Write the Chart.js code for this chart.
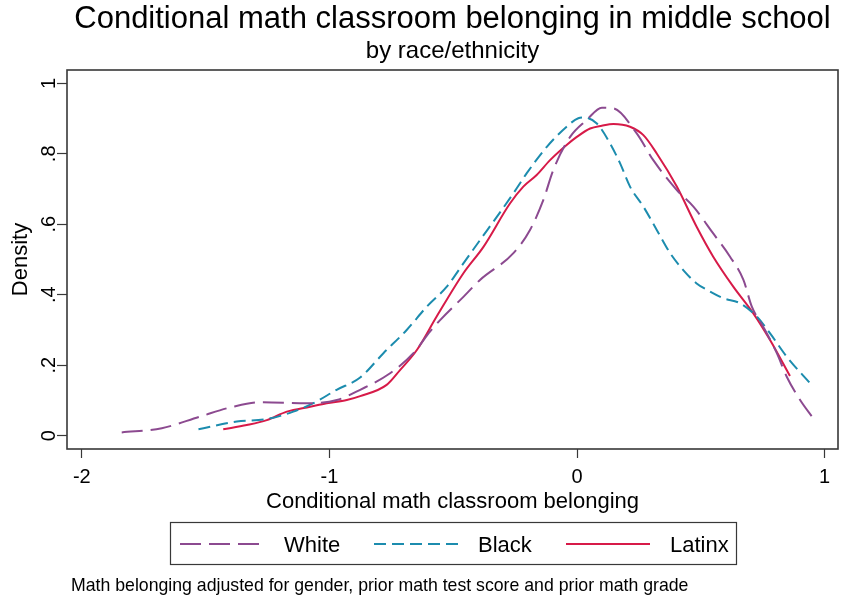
<!DOCTYPE html>
<html>
<head>
<meta charset="utf-8">
<script src="https://cdn.jsdelivr.net/npm/chart.js@4/dist/chart.umd.min.js"></script>
<style>
  html, body { margin: 0; padding: 0; background: #fff; }
  canvas { display: block; }
</style>
</head>
<body>
<canvas id="c" width="841" height="603"></canvas>
<script>
// Kernel density estimates of conditional math classroom belonging
const whiteX = [-1.839, -1.677, -1.523, -1.389, -1.273, -1.092, -0.970, -0.876, -0.755, -0.661, -0.594, -0.553, -0.459, -0.392, -0.257, -0.190, -0.136, -0.096, -0.028, 0.039, 0.100, 0.147, 0.241, 0.308, 0.403, 0.470, 0.550, 0.618, 0.672, 0.706, 0.752, 0.807, 0.847, 0.901, 0.954];
const whiteY = [0.009, 0.021, 0.054, 0.082, 0.095, 0.092, 0.101, 0.130, 0.177, 0.234, 0.295, 0.328, 0.394, 0.442, 0.518, 0.584, 0.669, 0.754, 0.848, 0.896, 0.931, 0.929, 0.858, 0.782, 0.697, 0.650, 0.574, 0.508, 0.442, 0.366, 0.309, 0.234, 0.167, 0.101, 0.049];

const blackX = [-1.529, -1.374, -1.253, -1.146, -1.065, -0.971, -0.876, -0.782, -0.688, -0.607, -0.526, -0.459, -0.392, -0.324, -0.257, -0.203, -0.122, -0.042, 0.005, 0.030, 0.080, 0.133, 0.174, 0.214, 0.268, 0.322, 0.376, 0.429, 0.483, 0.524, 0.591, 0.658, 0.726, 0.779, 0.847, 0.941];
const blackY = [0.018, 0.040, 0.047, 0.068, 0.092, 0.130, 0.165, 0.234, 0.300, 0.366, 0.423, 0.489, 0.555, 0.621, 0.688, 0.745, 0.820, 0.877, 0.901, 0.903, 0.886, 0.830, 0.773, 0.707, 0.650, 0.584, 0.518, 0.470, 0.432, 0.414, 0.390, 0.376, 0.338, 0.291, 0.224, 0.149];

const latinxX = [-1.429, -1.334, -1.253, -1.172, -1.078, -1.011, -0.930, -0.876, -0.769, -0.715, -0.647, -0.567, -0.459, -0.378, -0.271, -0.217, -0.163, -0.109, -0.042, -0.001, 0.053, 0.100, 0.147, 0.214, 0.268, 0.322, 0.403, 0.483, 0.550, 0.631, 0.712, 0.779, 0.860];
const latinxY = [0.018, 0.030, 0.044, 0.068, 0.082, 0.092, 0.101, 0.112, 0.144, 0.186, 0.243, 0.338, 0.461, 0.536, 0.659, 0.707, 0.740, 0.782, 0.825, 0.848, 0.872, 0.880, 0.885, 0.877, 0.853, 0.801, 0.707, 0.593, 0.508, 0.423, 0.347, 0.272, 0.169];

const seriesNames = ['White', 'Black', 'Latinx'];
const xTickValues = [-2, -1, 0, 1];
const xTickLabels = ['-2', '-1', '0', '1'];
const yTickValues = [0, 0.2, 0.4, 0.6, 0.8, 1];
const yTickLabels = ['0', '.2', '.4', '.6', '.8', '1'];

const titleText = 'Conditional math classroom belonging in middle school';
const subtitleText = 'by race/ethnicity';
const xTitleText = 'Conditional math classroom belonging';
const yTitleText = 'Density';
const noteText = 'Math belonging adjusted for gender, prior math test score and prior math grade';

const FONT = '"Liberation Sans", Arial, sans-serif';
const COLORS = ['#8c4a90', '#1c8cae', '#d71a48'];
const DASHES = [[21, 8], [12, 6], []];
const FRAME = '#383838';

function toPoints(xs, ys) {
  return xs.map((v, i) => ({ x: v, y: ys[i] }));
}

const seriesData = [
  toPoints(whiteX, whiteY),
  toPoints(blackX, blackY),
  toPoints(latinxX, latinxY)
];

const datasets = seriesNames.map((name, i) => ({
  label: name,
  data: seriesData[i],
  showLine: true,
  borderColor: COLORS[i],
  backgroundColor: COLORS[i],
  borderWidth: 2,
  borderDash: DASHES[i],
  pointRadius: 0,
  cubicInterpolationMode: 'monotone',
  fill: false
}));

// Frame, rotated y labels, titles, legend box and note
const decor = {
  id: 'decor',
  afterDraw(chart) {
    const { ctx, chartArea: a, scales } = chart;
    const ys = scales.y;
    const cx = (a.left + a.right) / 2;
    ctx.save();

    ctx.strokeStyle = FRAME;
    ctx.lineWidth = 1.6;
    ctx.setLineDash([]);
    ctx.strokeRect(a.left, a.top, a.right - a.left, a.bottom - a.top);

    ctx.fillStyle = '#000';
    ctx.font = '20px ' + FONT;
    ctx.textAlign = 'center';
    ctx.textBaseline = 'alphabetic';
    yTickValues.forEach((v, i) => {
      const py = ys.getPixelForValue(v);
      ctx.save();
      ctx.translate(55, py);
      ctx.rotate(-Math.PI / 2);
      ctx.fillText(yTickLabels[i], 0, 0);
      ctx.restore();
    });

    ctx.font = '22px ' + FONT;
    ctx.save();
    ctx.translate(27, (a.top + a.bottom) / 2);
    ctx.rotate(-Math.PI / 2);
    ctx.fillText(yTitleText, 0, 0);
    ctx.restore();

    ctx.fillText(xTitleText, cx, 508);

    ctx.font = '31px ' + FONT;
    ctx.fillText(titleText, cx, 28);
    ctx.font = '24px ' + FONT;
    ctx.fillText(subtitleText, cx, 58);

    // legend
    ctx.strokeStyle = FRAME;
    ctx.lineWidth = 1.2;
    ctx.strokeRect(170.5, 522.5, 566, 42);
    const sampleX = [180, 374, 566];
    ctx.font = '22px ' + FONT;
    ctx.textAlign = 'left';
    seriesNames.forEach((name, i) => {
      ctx.strokeStyle = COLORS[i];
      ctx.lineWidth = 2;
      ctx.setLineDash(DASHES[i]);
      ctx.beginPath();
      ctx.moveTo(sampleX[i], 544);
      ctx.lineTo(sampleX[i] + 84, 544);
      ctx.stroke();
      ctx.setLineDash([]);
      ctx.fillStyle = '#000';
      ctx.fillText(name, sampleX[i] + 104, 552);
    });

    ctx.font = '17.7px ' + FONT;
    ctx.fillText(noteText, 71, 591);
    ctx.restore();
  }
};

new Chart(document.getElementById('c'), {
  type: 'scatter',
  data: { datasets },
  options: {
    responsive: false,
    animation: false,
    devicePixelRatio: 1,
    layout: { padding: { left: 0, right: 3, top: 70, bottom: 0 } },
    plugins: {
      legend: { display: false },
      tooltip: { enabled: false },
      title: { display: false }
    },
    scales: {
      x: {
        type: 'linear',
        min: -2.06,
        max: 1.054,
        afterFit(s) { s.height = 154; },
        afterBuildTicks(s) { s.ticks = xTickValues.map(v => ({ value: v })); },
        ticks: {
          color: '#000',
          font: { family: FONT, size: 20 },
          padding: 7,
          maxRotation: 0,
          autoSkip: false,
          callback: (v) => xTickLabels[xTickValues.indexOf(v)]
        },
        grid: { drawOnChartArea: false, drawTicks: true, tickLength: 9, tickColor: FRAME, tickWidth: 1.2 },
        border: { display: false }
      },
      y: {
        type: 'linear',
        min: -0.038,
        max: 1.038,
        afterFit(s) { s.width = 67; },
        afterBuildTicks(s) { s.ticks = yTickValues.map(v => ({ value: v })); },
        ticks: { display: false },
        grid: { drawOnChartArea: false, drawTicks: true, tickLength: 10, tickColor: FRAME, tickWidth: 1.2 },
        border: { display: false }
      }
    }
  },
  plugins: [decor]
});
</script>
</body>
</html>
